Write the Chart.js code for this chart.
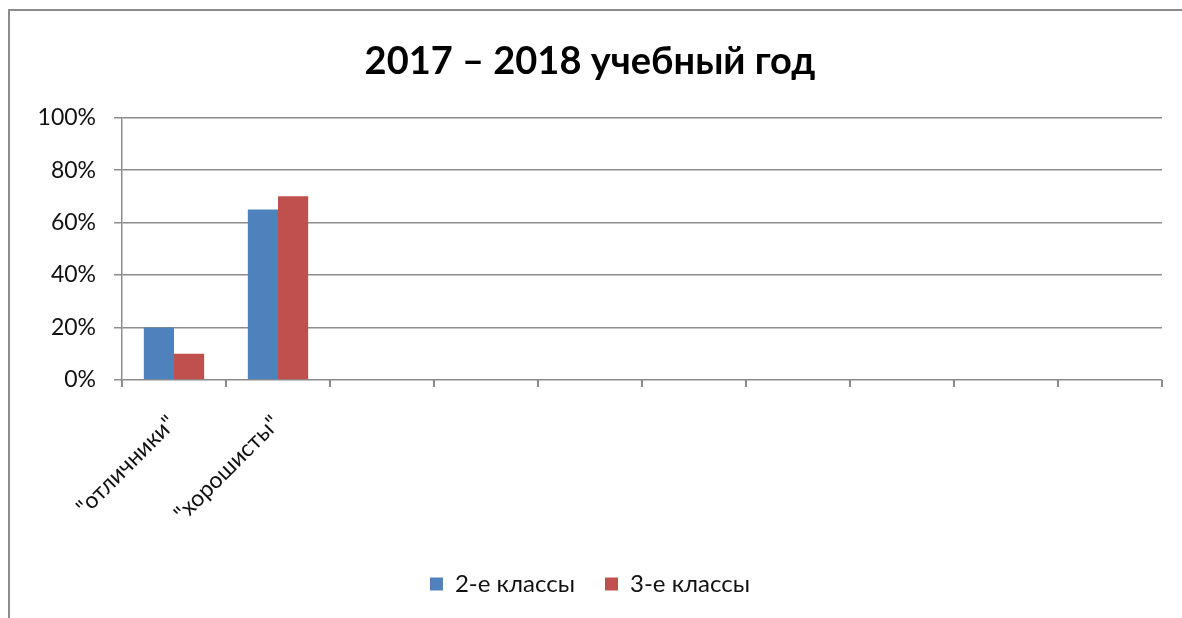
<!DOCTYPE html>
<html>
<head>
<meta charset="utf-8">
<script src="https://cdn.jsdelivr.net/npm/chart.js@4.4.0/dist/chart.umd.min.js"></script>
<style>
  html, body { margin: 0; padding: 0; background: #fff; }
  #wrap { position: relative; width: 1182px; height: 618px; }
  canvas { display: block; }
</style>
</head>
<body>
<div id="wrap"><canvas id="chart" width="1182" height="618"></canvas></div>
<script>
// категории (10 слотов, заполнены только первые два)
const categories = ['"отличники"', '"хорошисты"', '', '', '', '', '', '', '', ''];
const series2 = [20, 65, null, null, null, null, null, null, null, null];
const series3 = [10, 70, null, null, null, null, null, null, null, null];
const seriesNames = ['2-е классы', '3-е классы'];
const titleText = '2017 – 2018 учебный год';

const FONT = 'Lato, "Open Sans", sans-serif';

// рамка диаграммы (верх и лево)
const framePlugin = {
  id: 'frame',
  beforeDraw(chart) {
    const c = chart.ctx;
    c.save();
    c.strokeStyle = '#8c8c8c';
    c.lineWidth = 2;
    c.beginPath();
    c.moveTo(9, chart.height);
    c.lineTo(9, 10);
    c.lineTo(chart.width, 10);
    c.stroke();
    c.restore();
  }
};

new Chart(document.getElementById('chart').getContext('2d'), {
  type: 'bar',
  data: {
    labels: categories,
    datasets: [
      { label: seriesNames[0], data: series2, backgroundColor: '#4F81BD' },
      { label: seriesNames[1], data: series3, backgroundColor: '#C0504D' }
    ]
  },
  plugins: [framePlugin],
  options: {
    responsive: false,
    animation: false,
    layout: { padding: { left: 18, right: 20, top: 0, bottom: 12 } },
    datasets: { bar: { categoryPercentage: 0.58, barPercentage: 1.0 } },
    scales: {
      x: {
        grid: { offset: true, drawOnChartArea: false, drawTicks: true, tickLength: 7, color: '#8c8c8c', lineWidth: 2 },
        border: { display: false },
        ticks: {
          autoSkip: false, minRotation: 45, maxRotation: 45,
          color: '#111', font: { family: FONT, size: 23 }, padding: 23, labelOffset: -2
        },
        afterFit(scale) { scale.height = 162; }
      },
      y: {
        min: 0, max: 100,
        ticks: {
          stepSize: 20, color: '#111', padding: 18,
          font: { family: FONT, size: 23 },
          callback: v => v + '%'
        },
        grid: { color: '#8c8c8c', lineWidth: 1.5, tickLength: 8 },
        border: { color: '#8c8c8c', width: 1.5 },
        afterFit(scale) { scale.width = 104; }
      }
    },
    plugins: {
      title: {
        display: true, text: titleText, color: '#000',
        font: { family: FONT, size: 38, weight: 'bold' },
        padding: { top: 39, bottom: 33 }
      },
      legend: {
        position: 'bottom',
        labels: {
          boxWidth: 13, boxHeight: 13, padding: 30, color: '#111',
          font: { family: FONT, size: 24 }
        }
      },
      tooltip: { enabled: false }
    }
  }
});
</script>
</body>
</html>
